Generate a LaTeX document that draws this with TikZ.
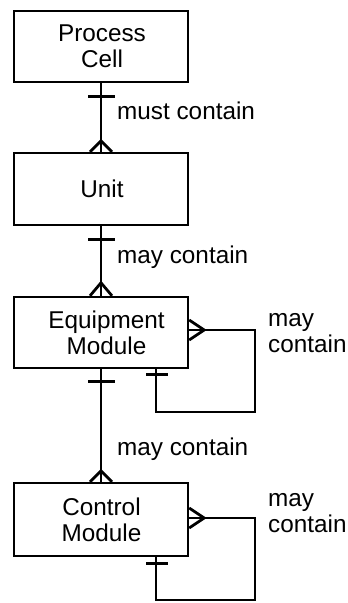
\documentclass[tikz,border=0pt]{standalone}
\usepackage{fontspec}
\setmainfont{Liberation Sans}
\begin{document}
\begin{tikzpicture}[x=1pt,y=-1pt,
  box/.style={draw, line width=2.4pt, minimum width=174pt, inner sep=0pt, align=center,
    font=\fontsize{24.3}{26}\selectfont},
  lbl/.style={anchor=west, inner sep=0pt, align=left, font=\fontsize{24.3}{26}\selectfont},
  conn/.style={line width=2.8pt}]
\useasboundingbox (0,0) rectangle (348,603);
\node[box, minimum height=71pt] (pc) at (101,46.5) {\hspace*{2pt}Process\\\hspace*{2pt}Cell};
\node[box, minimum height=72pt] (unit) at (101,189) {\hspace*{2pt}Unit};
\node[box, minimum height=71pt] (em) at (101,332.5) {\hspace*{11pt}Equipment\\\hspace*{11pt}Module};
\node[box, minimum height=73pt] (cm) at (101,519.5) {\hspace*{1pt}Control\\\hspace*{1pt}Module};
% Process Cell - Unit
\draw[conn] (pc.south) -- (unit.north);
\draw[conn] ([xshift=-13pt,yshift=-13pt]pc.south) -- ([xshift=14pt,yshift=-13pt]pc.south);
\draw[conn] ([xshift=-11pt]unit.north) -- ([yshift=11pt]unit.north) -- ([xshift=11pt]unit.north);
\node[lbl] (l1) at (117,111) {must contain};
% Unit - Equipment Module
\draw[conn] (unit.south) -- (em.north);
\draw[conn] ([xshift=-13pt,yshift=-13pt]unit.south) -- ([xshift=14pt,yshift=-13pt]unit.south);
\draw[conn] ([xshift=-11pt]em.north) -- ([yshift=13pt]em.north) -- ([xshift=11pt]em.north);
\node[lbl] (l2) at (117,257) {may contain};
% Equipment Module - Control Module
\draw[conn] (em.south) -- (cm.north);
\draw[conn] ([xshift=-13pt,yshift=-12pt]em.south) -- ([xshift=14pt,yshift=-12pt]em.south);
\draw[conn] ([xshift=-11pt]cm.north) -- ([yshift=11pt]cm.north) -- ([xshift=11pt]cm.north);
\node[lbl] (l3) at (117,449) {may contain};
% Equipment Module self loop
\coordinate (emR) at (255,412);
\draw[conn] ([yshift=2.5pt]em.east) -| (emR) -| ([xshift=55pt]em.south);
\draw[conn] ([yshift=12.5pt]em.east) -- ([xshift=15pt,yshift=2.5pt]em.east) -- ([yshift=-7.5pt]em.east);
\draw[conn] ([xshift=45pt,yshift=-5pt]em.south) -- ([xshift=67pt,yshift=-5pt]em.south);
\node[lbl] (l4) at (268,333) {may\\contain};
% Control Module self loop
\coordinate (cmR) at (255,600);
\draw[conn] ([yshift=1.5pt]cm.east) -| (cmR) -| ([xshift=55pt]cm.south);
\draw[conn] ([yshift=11.5pt]cm.east) -- ([xshift=15pt,yshift=1.5pt]cm.east) -- ([yshift=-8.5pt]cm.east);
\draw[conn] ([xshift=45pt,yshift=-6pt]cm.south) -- ([xshift=67pt,yshift=-6pt]cm.south);
\node[lbl] (l5) at (268,513) {may\\contain};
\end{tikzpicture}
\end{document}
